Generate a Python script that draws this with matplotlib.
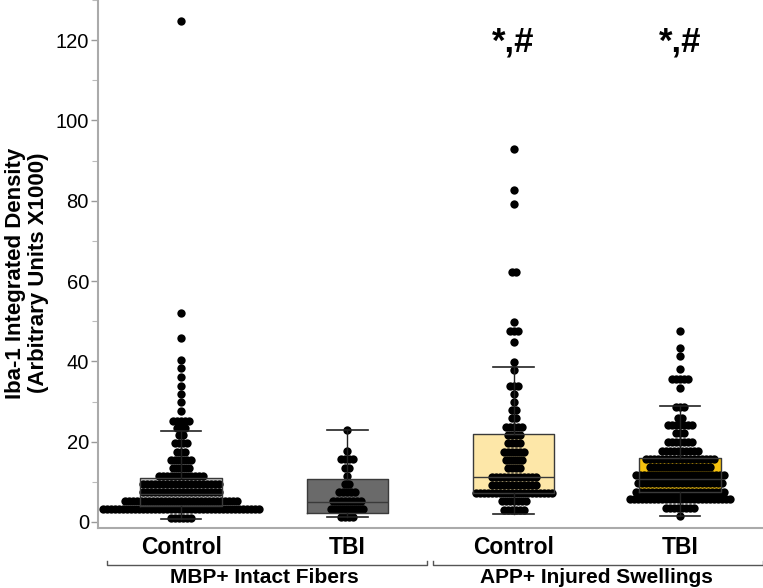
import numpy as np
import matplotlib.pyplot as plt

# categories
conditions = ['Control', 'TBI', 'Control', 'TBI']
groups = ['MBP+ Intact Fibers', 'APP+ Injured Swellings']
box_colors = ['#c8c8c8', '#6a6a6a', '#fde7a8', '#f6c20f']
signif = ['', '', '*,#', '*,#']

# box stats: whisker low, Q1, median, Q3, whisker high
mbp_ctrl_box = [0.8, 4.0, 7.0, 10.9, 22.6]
mbp_tbi_box = [1.2, 2.2, 5.0, 10.7, 22.9]
app_ctrl_box = [2.0, 7.3, 11.3, 21.8, 38.6]
app_tbi_box = [1.5, 7.5, 10.7, 16.0, 28.8]

# dot rows: value of the row and how many dots sit in it
mbp_ctrl_y = [1.0, 3.2, 5.3, 7.4, 9.5, 11.5, 13.4, 15.4, 17.4, 19.6, 21.6, 23.4,
              25.1, 27.6, 29.8, 31.9, 33.9, 36.1, 38.3, 40.3, 45.8, 52.0, 124.8]
mbp_ctrl_n = [6, 40, 29, 20, 20, 12, 5, 6, 3, 4, 2, 3,
              5, 1, 1, 1, 1, 1, 1, 1, 1, 1, 1]

mbp_tbi_y = [1.2, 3.2, 5.3, 7.4, 9.5, 11.5, 13.5, 15.6, 17.6, 22.9]
mbp_tbi_n = [4, 9, 8, 5, 2, 1, 2, 4, 1, 1]

app_ctrl_y = [3.0, 5.1, 7.1, 9.2, 11.3, 13.4, 15.4, 17.5, 19.6, 21.7, 23.7, 25.8,
              27.9, 29.8, 31.8, 33.9, 37.8, 39.8, 44.8, 47.5, 49.7, 62.2, 79.3,
              82.6, 93.0]
app_ctrl_n = [6, 7, 20, 12, 12, 4, 5, 6, 4, 4, 5, 2,
              2, 1, 1, 3, 1, 1, 1, 3, 1, 2, 1,
              1, 1]

app_tbi_y = [1.5, 3.6, 5.6, 7.5, 9.6, 11.7, 13.8, 15.7, 17.7, 19.8, 22.1, 24.1,
             26.0, 28.7, 33.4, 35.6, 38.1, 41.3, 43.4, 47.5]
app_tbi_n = [1, 8, 26, 23, 22, 23, 16, 18, 10, 7, 3, 7,
             2, 3, 1, 5, 1, 1, 1, 1]

boxes = [mbp_ctrl_box, mbp_tbi_box, app_ctrl_box, app_tbi_box]
dot_rows = [(mbp_ctrl_y, mbp_ctrl_n), (mbp_tbi_y, mbp_tbi_n),
            (app_ctrl_y, app_ctrl_n), (app_tbi_y, app_tbi_n)]

plt.rcParams['font.family'] = ['Liberation Sans', 'DejaVu Sans']

fig = plt.figure(figsize=(7.63, 5.88), dpi=100)
ax = fig.add_axes([98 / 763, 60 / 588, 665 / 763, 528 / 588])

stats = []
for b in boxes:
    stats.append(dict(whislo=b[0], q1=b[1], med=b[2], q3=b[3], whishi=b[4], fliers=[]))

pos = np.arange(len(boxes))
# filled boxes under the dots
bp = ax.bxp(stats, positions=pos, widths=0.49, patch_artist=True, showfliers=False,
            boxprops=dict(linewidth=0), whiskerprops=dict(linewidth=0),
            capprops=dict(linewidth=0), medianprops=dict(linewidth=0), zorder=1)
for patch, c in zip(bp['boxes'], box_colors):
    patch.set_facecolor(c)

# dots, stacked side by side in each row
step = 0.024
for i, (ys, ns) in enumerate(dot_rows):
    xs_all, ys_all = [], []
    for y, n in zip(ys, ns):
        xs_all.extend(pos[i] + (np.arange(n) - (n - 1) / 2) * step)
        ys_all.extend([y] * n)
    ax.plot(xs_all, ys_all, 'o', color='black', markersize=6.0, markeredgewidth=0, zorder=2)

# outlines, whiskers and medians on top
ax.bxp(stats, positions=pos, widths=0.49, showfliers=False,
       boxprops=dict(color='#3a3a3a', linewidth=1.0),
       whiskerprops=dict(color='#222222', linewidth=1.0),
       capprops=dict(color='#222222', linewidth=1.2),
       medianprops=dict(color='#3a3a3a', linewidth=1.0), zorder=3)

for i, s in enumerate(signif):
    if s:
        ax.text(pos[i], 119.5, s, ha='center', va='center', fontsize=25, fontweight='bold')

ax.set_xlim(-0.5, 3.5)
ax.set_ylim(-1.5, 130)
ax.set_yticks([0, 20, 40, 60, 80, 100, 120])
ax.set_yticks([10, 30, 50, 70, 90, 110, 130], minor=True)
ax.tick_params(axis='y', which='major', labelsize=14.5, color='#999999', length=5,
               width=1, pad=1.5)
ax.tick_params(axis='y', which='minor', color='#bbbbbb', length=4, width=0.8)
ax.set_xticks(pos)
ax.set_xticklabels(conditions, fontsize=16.5, fontweight='bold')
ax.tick_params(axis='x', length=0, pad=6)

for side in ['top', 'right']:
    ax.spines[side].set_visible(False)
for side in ['left', 'bottom']:
    ax.spines[side].set_color('#aaaaaa')
    ax.spines[side].set_linewidth(1.5)

fig.text(27 / 763, 1 - 273 / 588, 'Iba-1 Integrated Density\n(Arbitrary Units X1000)',
         rotation=90, ha='center', va='center', fontsize=16, fontweight='bold',
         linespacing=1.1)

# group brackets under the condition labels
tr = ax.get_xaxis_transform()
spans = [(-0.446, 1.48), (1.518, 3.5)]
label_x = [0.5, 2.5]
for (x0, x1), lx, g in zip(spans, label_x, groups):
    ax.plot([x0, x0, x1, x1], [-0.063, -0.070, -0.070, -0.063], color='#555555',
            linewidth=1.0, transform=tr, clip_on=False)
    ax.text(lx, -0.094, g, transform=tr, ha='center', va='center',
            fontsize=15, fontweight='bold')

fig.savefig('out.png', dpi=100)
